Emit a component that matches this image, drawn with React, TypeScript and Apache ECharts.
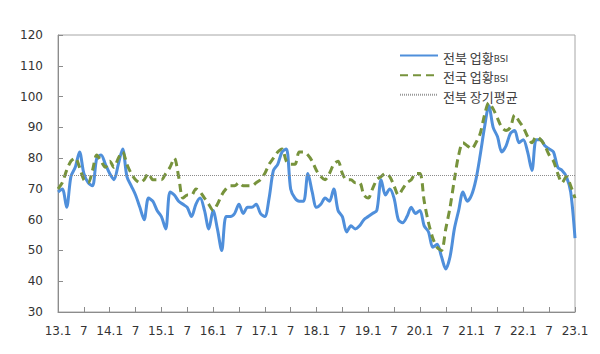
import React, { useEffect, useRef } from 'react';
import * as echarts from 'echarts';

// Month labels 13.1 ... 23.1
const years = [13, 14, 15, 16, 17, 18, 19, 20, 21, 22, 23];
const months = [1, 2, 3, 4, 5, 6, 7, 8, 9, 10, 11, 12];
const categories: string[] = [];
years.forEach((y) => {
  months.forEach((m) => {
    if (y < 23 || m === 1) categories.push(`${y}.${m}`);
  });
});

const seriesNames = ['전북 업황BSI', '전국 업황BSI', '전북 장기평균'];

// 전북 업황BSI
const jeonbukBSI = [
  69, 70, 64, 74, 77, 82, 75, 72, 71, 80, 81, 78,
  75, 73, 78, 83, 74, 71, 68, 64, 60, 67, 66, 63,
  61, 57, 69, 68, 66, 65, 64, 61, 65, 67, 63, 57,
  63, 57, 50, 61, 61, 62, 65, 62, 64, 64, 65, 62,
  61, 67, 76, 78, 82, 83, 70, 67, 66, 66, 75, 69,
  64, 65, 67, 66, 70, 63, 61, 56, 58, 57, 58, 60,
  61, 62, 63, 73, 68, 70, 67, 60, 59, 61, 64, 62,
  63, 58, 56, 51, 52, 48, 44, 48, 57, 63, 69, 66,
  68, 73, 81, 90, 97, 90, 87, 82, 84, 88, 89, 85,
  86, 82, 76, 86, 86, 84, 83, 82, 77, 76, 74, 69,
  54,
];

// 전국 업황BSI
const nationalBSI = [
  70, 72, 76, 79, 80, 77, 73, 72, 76, 81, 79, 77,
  79, 77, 80, 82, 78, 75, 73, 72, 73, 75, 73, 73,
  73, 75, 77, 80, 74, 67, 68, 68, 70, 69, 67, 65,
  63, 65, 68, 70, 71, 71, 72, 71, 71, 71, 72, 73,
  75, 78, 80, 82, 83, 79, 78, 78, 82, 82, 81, 79,
  76, 74, 73, 75, 78, 79, 75, 73, 73, 72, 72, 68,
  67, 70, 73, 74, 75, 74, 71, 68, 70, 72, 73, 75,
  75, 66, 59, 54, 51, 50, 57, 64, 73, 81, 85, 84,
  83, 85, 88, 94, 98, 96, 93, 90, 89, 90, 94, 92,
  90, 87, 85, 87, 86, 84, 81, 79, 75, 72, 74, 71,
  67,
];

// 전북 장기평균
const longTermAvg = 74.5;

const yTicks = { min: 30, max: 120, interval: 10 };

export default function App() {
  const ref = useRef<HTMLDivElement>(null);

  useEffect(() => {
    if (!ref.current) return;
    const chart = echarts.init(ref.current, null, { renderer: 'svg' });
    const axisColor = '#8c8c8c';
    const labelColor = '#333333';
    chart.setOption({
      animation: false,
      grid: {
        left: 58,
        right: 25,
        top: 35,
        bottom: 42,
        show: true,
        borderColor: '#a6a6a6',
        borderWidth: 1,
      },
      legend: {
        orient: 'vertical',
        left: 394,
        top: 45,
        itemWidth: 38,
        itemHeight: 14,
        itemGap: 6,
        data: seriesNames,
        itemStyle: { opacity: 0 },
        formatter: (name: string) =>
          name.indexOf('BSI') >= 0 ? '{k|' + name.replace('BSI', '}{s|BSI}') : '{k|' + name + '}',
        textStyle: {
          fontFamily: 'Noto Sans CJK KR',
          fontSize: 13,
          color: '#404040',
          rich: {
            k: { fontFamily: 'Noto Sans CJK KR', fontSize: 13, color: '#404040', verticalAlign: 'bottom', lineHeight: 16 },
            s: { fontFamily: 'DejaVu Sans', fontSize: 9, color: '#404040', verticalAlign: 'bottom', lineHeight: 14 },
          },
        },
      },
      xAxis: {
        type: 'category',
        data: categories,
        boundaryGap: false,
        axisLine: { lineStyle: { color: axisColor } },
        axisTick: { inside: true, interval: 5, length: 5, lineStyle: { color: axisColor } },
        axisLabel: {
          interval: 5,
          margin: 13,
          color: labelColor,
          fontSize: 12,
          fontFamily: 'DejaVu Sans',
          formatter: (v: string) => {
            const parts = v.split('.');
            return parts[1] === '1' ? v : parts[1];
          },
        },
        splitLine: { show: false },
      },
      yAxis: {
        type: 'value',
        min: yTicks.min,
        max: yTicks.max,
        interval: yTicks.interval,
        axisLine: { show: true, lineStyle: { color: axisColor } },
        axisTick: { show: true, inside: true, length: 5, lineStyle: { color: axisColor } },
        axisLabel: {
          margin: 15,
          color: labelColor,
          fontSize: 12,
          fontFamily: 'DejaVu Sans',
        },
        splitLine: { show: false },
      },
      series: [
        {
          name: seriesNames[0],
          type: 'line',
          data: jeonbukBSI,
          smooth: 0.3,
          symbol: 'none',
          showSymbol: false,
          itemStyle: { color: '#4f8fdb' },
          lineStyle: { color: '#4f8fdb', width: 3 },
          z: 3,
        },
        {
          name: seriesNames[1],
          type: 'line',
          data: nationalBSI,
          smooth: 0.3,
          symbol: 'none',
          showSymbol: false,
          itemStyle: { color: '#77933c' },
          lineStyle: { color: '#77933c', width: 3, type: [8, 5] },
          z: 4,
        },
        {
          name: seriesNames[2],
          type: 'line',
          data: [],
          symbol: 'none',
          itemStyle: { color: '#999999' },
          lineStyle: { color: '#999999', width: 1, type: [1, 1] },
          z: 2,
          markLine: {
            silent: true,
            symbol: ['none', 'none'],
            label: { show: false },
            lineStyle: { color: '#8c8c8c', width: 1, type: [1, 1] },
            data: [{ yAxis: longTermAvg }],
          },
        },
      ],
    });
    return () => chart.dispose();
  }, []);

  return (
    <div
      ref={ref}
      style={{ position: 'fixed', left: 0, top: 0, width: 600, height: 354, background: '#fff' }}
    />
  );
}
